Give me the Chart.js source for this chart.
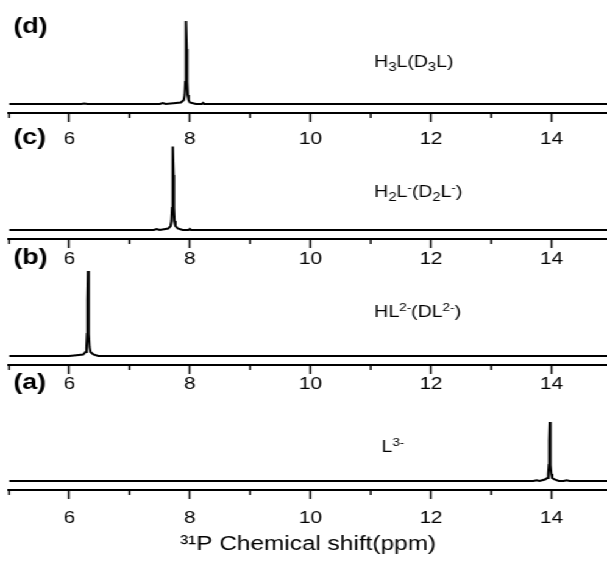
<!DOCTYPE html>
<html>
<head>
<meta charset="utf-8">
<script src="https://cdn.jsdelivr.net/npm/chart.js@4.4.1/dist/chart.umd.min.js"></script>
<style>
  body { margin: 0; background: #fff; overflow: hidden; }
  /* the source figure is stretched horizontally, so draw narrow and widen */
  #wrap { position: relative; width: 498px; height: 568px; transform: scaleX(1.2189); transform-origin: 0 0; }
  #wrap canvas { position: absolute; left: 0; top: 0; }
</style>
</head>
<body>
<div id="wrap">
  <canvas id="panelD" width="498" height="568"></canvas>
  <canvas id="panelC" width="498" height="568"></canvas>
  <canvas id="panelB" width="498" height="568"></canvas>
  <canvas id="panelA" width="498" height="568"></canvas>
</div>
<script>
// 31P NMR spectra, one panel per species (ppm vs. intensity)
const X_MIN = 5;
const X_MAX = 14.92;
const majorTicks = [6, 8, 10, 12, 14];
const minorTicks = [5, 7, 9, 11, 13];

// (d) H3L
const shiftD = [5, 6.2, 6.25, 6.3, 7.5, 7.55, 7.6, 7.85, 7.9, 7.915, 7.925, 7.932, 7.94, 7.948, 7.955, 7.965, 7.98, 8.0, 8.1, 8.2, 8.22, 8.24, 14.92];
const intD   = [0, 0, 0.5, 0, 0, 1, 0, 1.5, 4, 9, 22, 55, 83, 55, 22, 9, 4, 1.5, 0, 0, 1, 0, 0];
// (c) H2L-
const shiftC = [5, 7.0, 7.4, 7.45, 7.5, 7.64, 7.68, 7.695, 7.705, 7.712, 7.72, 7.728, 7.735, 7.745, 7.76, 7.8, 7.88, 7.98, 8.0, 8.02, 14.92];
const intC   = [0, 0, 0, 1, 0, 1.5, 4, 9, 22, 55, 83.5, 55, 22, 9, 4, 1.5, 0, 0, 1, 0, 0];
// (b) HL2-
const shiftB = [5, 6.0, 6.23, 6.27, 6.285, 6.295, 6.302, 6.31, 6.318, 6.325, 6.335, 6.35, 6.4, 6.48, 14.92];
const intB   = [0, 0, 1.5, 4, 9, 22, 55, 85, 55, 22, 9, 4, 1.5, 0, 0];
// (a) L3-
const shiftA = [5, 13.7, 13.75, 13.8, 13.89, 13.93, 13.945, 13.955, 13.962, 13.97, 13.978, 13.985, 13.995, 14.01, 14.05, 14.12, 14.2, 14.25, 14.3, 14.92];
const intA   = [0, 0, 0.8, 0, 1.5, 3, 7, 16, 40, 59, 40, 16, 7, 3, 1.5, 0, 0, 0.8, 0, 0];

const panelLetters = ['(d)', '(c)', '(b)', '(a)'];
// species labels: [text, 'sub' | 'sup' | '']
const speciesD = [['H', ''], ['3', 'sub'], ['L(D', ''], ['3', 'sub'], ['L)', '']];
const speciesC = [['H', ''], ['2', 'sub'], ['L', ''], ['-', 'sup'], ['(D', ''], ['2', 'sub'], ['L', ''], ['-', 'sup'], [')', '']];
const speciesB = [['HL', ''], ['2-', 'sup'], ['(DL', ''], ['2-', 'sup'], [')', '']];
const speciesA = [['L', ''], ['3-', 'sup']];

const FONT = "Arial, 'Liberation Sans', sans-serif";

function toPoints(xs, ys) {
    return xs.map((x, i) => ({ x: x, y: ys[i] }));
}

function drawRich(ctx, parts, x, y) {
    let cx = x;
    parts.forEach(p => {
        let size = 16, dy = 0;
        if (p[1] === 'sub') { size = 12; dy = 4; }
        if (p[1] === 'sup') { size = 11; dy = -6; }
        ctx.font = size + 'px ' + FONT;
        ctx.fillText(p[0], cx, y + dy);
        cx += ctx.measureText(p[0]).width;
    });
}

const panelPlugin = {
    id: 'panelDecor',
    afterDraw(chart, args, opts) {
        const ctx = chart.ctx;
        const xs = chart.scales.x;
        ctx.save();
        // minor ticks
        ctx.strokeStyle = '#000';
        ctx.lineWidth = 1.5;
        minorTicks.forEach(v => {
            const px = xs.getPixelForValue(v);
            ctx.beginPath();
            ctx.moveTo(px, xs.top);
            ctx.lineTo(px, xs.top + 5);
            ctx.stroke();
        });
        ctx.fillStyle = '#000';
        ctx.textBaseline = 'middle';
        ctx.textAlign = 'left';
        ctx.font = 'bold 22px ' + FONT;
        ctx.fillText(opts.letter, 11, opts.letterY);
        ctx.textBaseline = 'alphabetic';
        drawRich(ctx, opts.species, xs.getPixelForValue(opts.speciesX), opts.speciesY);
        ctx.restore();
    }
};

function makePanel(id, xs, ys, cfg) {
    const ctx = document.getElementById(id).getContext('2d');
    const H = cfg.axisY - cfg.top;
    return new Chart(ctx, {
        type: 'line',
        data: {
            datasets: [{
                data: toPoints(xs, ys),
                borderColor: '#000',
                borderWidth: 2,
                pointRadius: 0,
                tension: 0,
                fill: false
            }]
        },
        options: {
            responsive: false,
            animation: false,
            layout: {
                padding: { left: 7.4, right: 0, top: cfg.top, bottom: 568 - cfg.axisY - cfg.labelArea }
            },
            plugins: {
                legend: { display: false },
                tooltip: { enabled: false },
                panelDecor: cfg.decor
            },
            scales: {
                x: {
                    type: 'linear',
                    min: X_MIN,
                    max: X_MAX,
                    afterBuildTicks: s => { s.ticks = majorTicks.map(v => ({ value: v })); },
                    afterFit: s => { s.height = cfg.labelArea; },
                    border: { display: true, color: '#000', width: 2 },
                    grid: { drawOnChartArea: false, drawTicks: true, tickLength: 9, tickWidth: 1.5, tickColor: '#000' },
                    ticks: { color: '#000', font: { family: FONT, size: 17 }, padding: cfg.tickPad, maxRotation: 0 },
                    title: {
                        display: !!cfg.title,
                        text: cfg.title || '',
                        color: '#000',
                        font: { family: FONT, size: 20 },
                        padding: { top: 2, bottom: 0 }
                    }
                },
                y: {
                    display: false,
                    min: -9,
                    max: H - 9
                }
            }
        },
        plugins: [panelPlugin]
    });
}

makePanel('panelD', shiftD, intD, {
    top: 13, axisY: 113, labelArea: 40, tickPad: 7,
    decor: { letter: panelLetters[0], letterY: 27, species: speciesD, speciesX: 11.06, speciesY: 67 }
});
makePanel('panelC', shiftC, intC, {
    top: 140, axisY: 239, labelArea: 40, tickPad: 1,
    decor: { letter: panelLetters[1], letterY: 138, species: speciesC, speciesX: 11.06, speciesY: 197 }
});
makePanel('panelB', shiftB, intB, {
    top: 265, axisY: 365, labelArea: 40, tickPad: 0,
    decor: { letter: panelLetters[2], letterY: 258, species: speciesB, speciesX: 11.06, speciesY: 317 }
});
makePanel('panelA', shiftA, intA, {
    top: 400, axisY: 490, labelArea: 66, tickPad: 9, title: '³¹P Chemical shift(ppm)',
    decor: { letter: panelLetters[3], letterY: 383, species: speciesA, speciesX: 11.18, speciesY: 452 }
});
</script>
</body>
</html>
